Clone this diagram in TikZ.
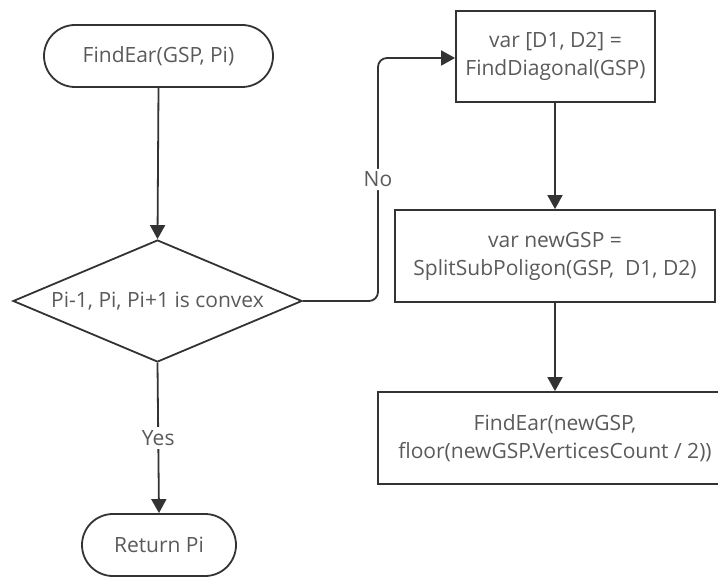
\documentclass[tikz,border=0pt]{standalone}
\usepackage{fontspec}
\setmainfont{Open Sans}
\usetikzlibrary{shapes.geometric,arrows.meta}
\definecolor{lineC}{HTML}{333333}
\definecolor{textC}{HTML}{5A5A5A}
\begin{document}
\begin{tikzpicture}[x=1pt,y=-1pt,
  every node/.style={text=textC,font=\fontsize{21}{28}\selectfont},
  term/.style={draw=lineC,line width=1.8pt,rectangle,rounded corners=31pt,inner sep=0pt},
  procbox/.style={draw=lineC,line width=1.8pt,rectangle,inner sep=0pt,align=center},
  decbox/.style={draw=lineC,line width=1.8pt,diamond,inner sep=0pt,minimum width=289pt,minimum height=122pt},
  conn/.style={draw=lineC,line width=1.8pt,-{Triangle[width=15pt,length=14pt]}},
  lbl/.style={fill=white,inner sep=3pt}]
\useasboundingbox (0,0) rectangle (718,578);
\clip (0,0) rectangle (718,578);

\node[term,minimum width=229pt,minimum height=62pt] (start) at (158.5,56) {FindEar(GSP, Pi)};
\node[decbox] (dec) at (157.5,301) {};
\node (dectext) at (dec.center) {Pi-1, Pi, Pi+1 is convex};
\node[term,minimum width=154pt,minimum height=62pt] (ret) at (159,545) {Return Pi};

\node[procbox,minimum width=199pt,minimum height=91pt] (b1) at (555.5,56.5) {var [D1, D2] =\\FindDiagonal(GSP)};
\node[procbox,minimum width=320pt,minimum height=92pt] (b2) at (555,256) {var newGSP =\\SplitSubPoligon(GSP,\ \ D1, D2)};
\node[procbox,minimum width=354pt,minimum height=92pt] (b3) at (555,438) {};
\node[align=center] (b3text) at (555,438) {FindEar(newGSP,\\floor(newGSP.VerticesCount / 2))};

\coordinate (nocorner) at (378,301);
\coordinate (notop) at (378,58);

\draw[conn] (start.south) -- (dec.north);
\draw[conn] (dec.south) -- node[lbl] (yes) {Yes} (ret.north);
\draw[conn,rounded corners=9pt] (dec.east) -- (nocorner) -- node[lbl] (no) {No} (notop) -- (b1.west |- notop);
\draw[conn] (b1.south -| 555,0) -- (b2.north);
\draw[conn] (b2.south) -- (b3.north);
\end{tikzpicture}
\end{document}
